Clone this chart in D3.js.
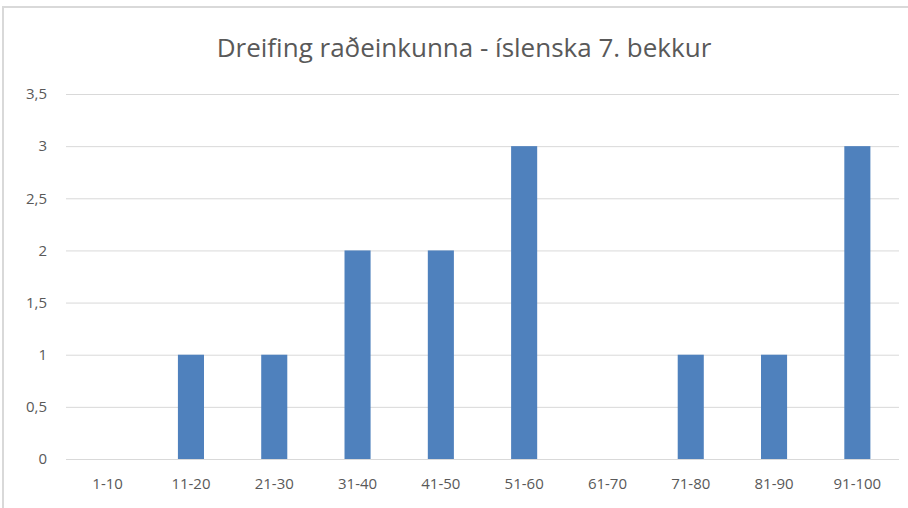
<!DOCTYPE html>
<html>
<head>
<meta charset="utf-8">
<script src="https://cdn.jsdelivr.net/npm/d3@7"></script>
<style>
  body { margin: 0; background: #fff; }
  text { font-family: "Open Sans", "Noto Sans", sans-serif; fill: #595959; }
</style>
</head>
<body>
<svg></svg>
<script>
var categories = ["1-10", "11-20", "21-30", "31-40", "41-50", "51-60", "61-70", "71-80", "81-90", "91-100"]
var values = [0, 1, 1, 2, 2, 3, 0, 1, 1, 3]
var yTicks = [0, 0.5, 1, 1.5, 2, 2.5, 3, 3.5]
var title = "Dreifing raðeinkunna - íslenska 7. bekkur"

var width = 908
var height = 508
var margin = {left: 66, right: 9, top: 94, bottom: 49}

var svg = d3.select("svg")
    .attr("width", width)
    .attr("height", height)

// chart frame
svg.append("rect")
    .attr("x", 3)
    .attr("y", 7)
    .attr("width", width + 10)
    .attr("height", height + 10)
    .attr("fill", "none")
    .attr("stroke", "#d9d9d9")
    .attr("stroke-width", 2)

var x = d3.scaleBand()
    .domain(categories)
    .range([margin.left, width - margin.right])
    .paddingInner(0.687)
    .paddingOuter(0.3435)

var y = d3.scaleLinear()
    .domain([0, 3.5])
    .range([height - margin.bottom, margin.top])

var fmt = d => String(d).replace(".", ",")

// gridlines + y labels
var yAxis = d3.axisLeft(y)
    .tickValues(yTicks)
    .tickSize(-(width - margin.left - margin.right))
    .tickPadding(19)
    .tickFormat(fmt)

svg.append("g")
    .attr("transform", "translate(" + margin.left + ",0)")
    .call(yAxis)
    .call(g => g.select(".domain").remove())
    .call(g => g.selectAll("line").attr("stroke", "#d9d9d9"))
    .call(g => g.selectAll("text")
        .attr("fill", "#595959")
        .style("font-size", "15px"))

// bars
svg.selectAll(".bar")
    .data(values)
    .enter()
    .append("rect")
    .classed("bar", true)
    .attr("x", (d, i) => x(categories[i]))
    .attr("width", x.bandwidth())
    .attr("y", d => y(d))
    .attr("height", d => y(0) - y(d))
    .attr("fill", "#4f81bd")

// x labels
var xAxis = d3.axisBottom(x)
    .tickSize(0)
    .tickPadding(19)

svg.append("g")
    .attr("transform", "translate(0," + y(0) + ")")
    .call(xAxis)
    .call(g => g.select(".domain").remove())
    .call(g => g.selectAll("text")
        .attr("fill", "#595959")
        .style("font-size", "15px"))

// title
svg.append("text")
    .attr("x", 464)
    .attr("y", 57)
    .attr("text-anchor", "middle")
    .style("font-size", "26px")
    .text(title)
</script>
</body>
</html>
